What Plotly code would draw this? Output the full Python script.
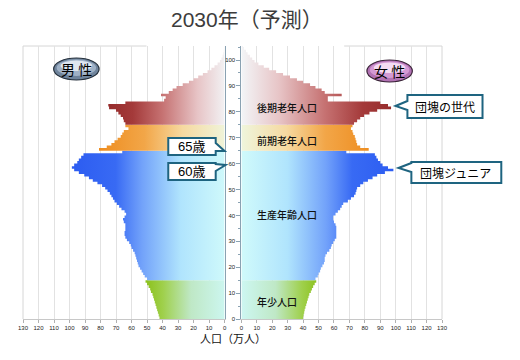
import plotly.graph_objects as go

# ---------------- data (万人) ----------------
ages = list(range(0, 106))
male = [
    # 0-14
    42, 42.5, 43, 43.5, 44, 44.5, 45, 45.5, 46, 46.5, 47.5, 48, 49, 50, 51,
    # 15-24
    50, 51.5, 52.5, 53.5, 54.5, 55.5, 56, 56.5, 57, 57.5,
    # 25-34
    58, 59, 60, 60.5, 61.5, 63, 64, 64.5, 64.5, 64,
    # 35-44
    64, 64, 65, 65.5, 64.5, 63.5, 64.5, 66.5, 68, 69.5,
    # 45-54
    71, 72, 73, 74, 75.5, 77, 79, 82, 85, 87.5,
    # 55-64
    90.5, 94, 97, 98.5, 97, 95, 94, 92.5, 91, 66,
    # 65-74
    81, 76, 73, 71, 69, 67, 66, 65, 62, 64,
    # 75-83
    64, 65, 65.5, 67, 68.5, 70, 74.5, 75, 64,
    # 84-105
    39, 38, 41, 36, 33.5, 31, 27, 23, 20, 17, 14, 11, 8.5, 6.5, 4.5, 3, 2, 1.3, 0.8, 0.5, 0.3, 0.2,
]
female = [
    # 0-14
    40, 40.3, 40.7, 41, 41.5, 42, 42.5, 43, 43.5, 44, 45, 45.7, 46.5, 47.5, 48.5,
    # 15-24
    48, 49.5, 50, 51, 51.5, 52.5, 53.5, 54, 54, 54.5,
    # 25-34
    55.5, 57, 58, 58.5, 59.5, 60.5, 61.5, 61.5, 61.5, 61.5,
    # 35-44
    61.5, 61, 60, 59.5, 59.5, 61, 62.5, 64, 65, 66,
    # 45-54
    69, 71, 73, 74, 74.5, 75, 77, 79, 82, 85,
    # 55-64
    88, 93, 98.5, 95, 91.5, 90, 88.5, 87.5, 86.5, 68,
    # 65-74
    82.5, 77, 75, 74.5, 74, 73.5, 72.5, 72, 71, 72,
    # 75-83
    73, 75, 77, 79.5, 83, 88, 97, 95, 90,
    # 84-105
    56, 56, 65, 54, 52, 48, 44.5, 40, 36, 31.5, 27, 22.5, 18, 14.5, 11, 8.5, 7, 5.5, 4, 3, 1.7, 1,
]
group_names = ["年少人口", "生産年齢人口", "前期老年人口", "後期老年人口"]
group_start = [0, 15, 65, 75]
group_end = [14, 64, 74, 105]
group_label_age = [6.7, 40.4, 68.8, 81.7]
x_ticks = list(range(0, 131, 10))
y_ticks = list(range(0, 101, 10))

# ---------------- styles ----------------
scales = [
    [[0, "#cdf7f2"], [0.45, "#bfe8c6"], [0.8, "#9fd04c"], [1, "#8dc21f"]],
    [[0, "#d0fafb"], [0.3, "#b0e4fd"], [0.55, "#72a2fa"], [0.72, "#386af4"], [1, "#2c5cf1"]],
    [[0, "#eff5dc"], [0.35, "#f6d9a0"], [0.65, "#f2a648"], [1, "#ee8d20"]],
    [[0, "#f3f5f7"], [0.25, "#e7c4c6"], [0.55, "#c67272"], [0.8, "#a43a3a"], [1, "#962c2c"]],
]

OFF = 8  # page body margin
L, R, T, B = 18, 442, 46, 319  # plot area in screen pixels
W, H = 520, 360


def px(x):
    return (x - L) / (R - L)


def py(y):
    return (B - y) / (B - T)


def step_polygon(vals, a0, a1):
    xs, ys = [0], [a0]
    for a in range(a0, a1 + 1):
        xs += [vals[a], vals[a]]
        ys += [a, a + 1]
    xs.append(0)
    ys.append(a1 + 1)
    return xs, ys


fig = go.Figure()
for side, vals, xa, ya in (("m", male, "x", "y"), ("f", female, "x2", "y2")):
    for gi in range(4):
        xs, ys = step_polygon(vals, group_start[gi], group_end[gi])
        vmax = max(vals[group_start[gi]:group_end[gi] + 1])
        fig.add_trace(go.Scatter(
            x=xs, y=ys, xaxis=xa, yaxis=ya, mode="lines",
            line=dict(width=0), fill="toself",
            fillgradient=dict(type="horizontal", colorscale=scales[gi], start=0, stop=vmax),
            hoverinfo="skip", showlegend=False,
        ))

d1 = [0, px(222)]
d2 = [px(239), 1]
yr = [0, (B - T) / 2.59]
tickfont = dict(family="Liberation Sans, Arial", size=6, color="#222222")
common_x = dict(
    tickvals=x_ticks, ticks="outside", ticklen=3, tickcolor="#b0b0b0",
    showgrid=True, gridcolor="#e2e2e2", gridwidth=1, zeroline=False,
    showline=True, linecolor="#c8c8c8", linewidth=1, tickfont=tickfont,
)
fig.update_layout(
    width=W, height=H,
    margin=dict(l=L - OFF, r=W - (R - OFF), t=T - OFF, b=H - (B - OFF)),
    paper_bgcolor="white", plot_bgcolor="white",
    xaxis=dict(domain=d1, range=[130, 0], anchor="y", **common_x),
    xaxis2=dict(domain=d2, range=[0, 130], anchor="y2", **common_x),
    yaxis=dict(domain=[0, 1], range=yr, anchor="x", side="right", showticklabels=False,
               showgrid=False, zeroline=False, showline=True, linecolor="#8aa2b2", linewidth=1),
    yaxis2=dict(domain=[0, 1], range=yr, anchor="x2", side="left", matches="y",
                tickvals=y_ticks, ticks="outside", ticklen=4, tickcolor="#8aa2b2",
                minor=dict(dtick=5, ticks="outside", ticklen=2, tickcolor="#8aa2b2"),
                tickfont=tickfont, showgrid=False, zeroline=False,
                showline=True, linecolor="#8aa2b2", linewidth=1),
)

shapes = []
# frame lines (light grey)
for (x0, y0, x1, y1) in [(L, T, 143, T), (343, T, R, T), (L, T, L, B), (R, T, R, B)]:
    shapes.append(dict(type="line", xref="paper", yref="paper", x0=px(x0), y0=py(y0),
                       x1=px(x1), y1=py(y1), line=dict(color="#d6d6d6", width=1), layer="below"))


def pill(cx, cy, rx, ry, cols, border):
    out = [dict(type="circle", xref="paper", yref="paper", x0=px(cx - rx), x1=px(cx + rx),
                y0=py(cy + ry), y1=py(cy - ry), fillcolor=cols[0], line=dict(color=border, width=1.2))]
    out.append(dict(type="circle", xref="paper", yref="paper", x0=px(cx - rx + 3), x1=px(cx + rx - 3),
                    y0=py(cy + ry - 4), y1=py(cy - ry + 1.5), fillcolor=cols[1], line=dict(width=0)))
    out.append(dict(type="circle", xref="paper", yref="paper", x0=px(cx - rx + 7), x1=px(cx + rx - 7),
                    y0=py(cy + ry - 9), y1=py(cy - ry + 2.5), fillcolor=cols[2], line=dict(width=0)))
    return out


shapes += pill(72, 69, 23, 11, ["#6f849c", "#9fb1c6", "#dfe7f0"], "#25303c")
shapes += pill(389, 71, 23, 11, ["#b272b4", "#d49ad4", "#f5dcf3"], "#3a2438")


def callout(x0, y0, x1, y1, side, tb0, tb1, tip):
    P = lambda x, y: f"{px(x):.5f},{py(y):.5f}"
    if side == "right":
        path = (f"M {P(x0, y0)} L {P(x1, y0)} L {P(x1, tb0)} L {P(*tip)} L {P(x1, tb1)} "
                f"L {P(x1, y1)} L {P(x0, y1)} Z")
    else:
        path = (f"M {P(x0, y0)} L {P(x1, y0)} L {P(x1, y1)} L {P(x0, y1)} L {P(x0, tb1)} "
                f"L {P(*tip)} L {P(x0, tb0)} Z")
    return dict(type="path", xref="paper", yref="paper", path=path, fillcolor="white",
                line=dict(color="#1e6480", width=2))


shapes.append(callout(165, 138, 213, 155, "right", 143, 151, (222, 151)))
shapes.append(callout(165, 163, 213, 180, "right", 164, 171, (223, 165)))
shapes.append(callout(407, 95, 483, 118, "left", 101, 110, (395, 106)))
shapes.append(callout(411, 162, 502, 183, "left", 163, 172, (398, 168)))
fig.update_layout(shapes=shapes)

jp = "Liberation Sans, Noto Sans CJK JP"
ann = [
    dict(text="2030年（予測）", x=px(245), y=py(20), font=dict(family=jp, size=21, color="#3c3c3c")),
    dict(text="人口（万人）", x=px(231), y=py(338), font=dict(family="Noto Sans CJK JP", size=11, color="#111")),
    dict(text="男 性", x=px(72), y=py(69), font=dict(family="Noto Sans CJK JP", size=14, color="#000")),
    dict(text="女 性", x=px(389), y=py(71), font=dict(family="Noto Sans CJK JP", size=14, color="#000")),
    dict(text="65歳", x=px(189), y=py(146.5), font=dict(family=jp, size=13, color="#000")),
    dict(text="60歳", x=px(189), y=py(171.5), font=dict(family=jp, size=13, color="#000")),
    dict(text="団塊の世代", x=px(445), y=py(106.5), font=dict(family="Noto Sans CJK JP", size=12, color="#000")),
    dict(text="団塊ジュニア", x=px(456), y=py(172.5), font=dict(family="Noto Sans CJK JP", size=12, color="#000")),
]
annotations = [dict(xref="paper", yref="paper", showarrow=False, xanchor="center", yanchor="middle", **a)
               for a in ann]
for gi in range(4):
    annotations.append(dict(
        text=group_names[gi], xref="x2", yref="y2", x=9, y=group_label_age[gi],
        xanchor="left", yanchor="middle", showarrow=False,
        font=dict(family="Noto Sans CJK JP", size=10, color="#111", weight=500),
    ))
fig.update_layout(annotations=annotations)

fig.write_html("out.html")
